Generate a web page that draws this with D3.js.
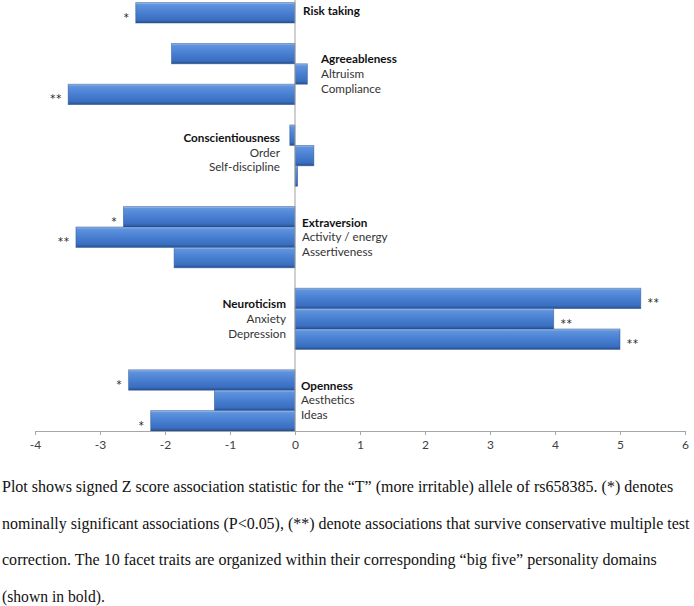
<!DOCTYPE html>
<html>
<head>
<meta charset="utf-8">
<script src="https://cdn.jsdelivr.net/npm/d3@7"></script>
<style>
  html, body { margin: 0; padding: 0; background: #fff; }
  svg { display: block; }
</style>
</head>
<body>
<svg id="chart" width="694" height="606"></svg>
<script>
// ---- data ----
const domains = ["Risk taking", "Agreeableness", "Conscientiousness", "Extraversion", "Neuroticism", "Openness"];
const facets = [[], ["Altruism", "Compliance"], ["Order", "Self-discipline"], ["Activity / energy", "Assertiveness"], ["Anxiety", "Depression"], ["Aesthetics", "Ideas"]];
// values per row, in top-to-bottom order (domain row first, then its facets)
const zScores = [-2.45, -1.90, 0.19, -3.49, -0.08, 0.29, 0.04, -2.64, -3.37, -1.86, 5.32, 3.98, 5.00, -2.56, -1.24, -2.22];
const significance = ["*", "", "", "**", "", "", "", "*", "**", "", "**", "**", "**", "*", "", "*"];
const xTicks = [-4, -3, -2, -1, 0, 1, 2, 3, 4, 5, 6];
const captionLines = [
  "Plot shows signed Z score association statistic for the \u201cT\u201d (more irritable) allele of rs658385. (*) denotes",
  "nominally significant associations (P<0.05), (**) denote associations that survive conservative multiple test",
  "correction. The 10 facet traits are organized within their corresponding \u201cbig five\u201d personality domains",
  "(shown in bold)."
];

// ---- build rows ----
const rows = [];
const slots = [];
let k = 0;
domains.forEach((d, gi) => {
  if (gi > 0) slots.push("gap" + gi);
  const names = [d].concat(facets[gi]);
  names.forEach((n, j) => {
    const id = "r" + k;
    rows.push({ id, name: n, group: gi, isDomain: j === 0, value: zScores[k], sig: significance[k] });
    slots.push(id);
    k++;
  });
});

const svg = d3.select("#chart");
const x = d3.scaleLinear().domain([-4, 6]).range([35, 685]);
const y = d3.scaleBand().domain(slots).range([2.6, 431]).padding(0);
const bw = y.bandwidth();

// gradient
const defs = svg.append("defs");
const grad = defs.append("linearGradient").attr("id", "barGrad").attr("x1", 0).attr("y1", 0).attr("x2", 0).attr("y2", 1);
[["0%", "#a3c2f0"], ["10%", "#5f93dd"], ["45%", "#4a81d2"], ["85%", "#3a6ec0"], ["100%", "#24508f"]].forEach(s =>
  grad.append("stop").attr("offset", s[0]).attr("stop-color", s[1]));

// bars
svg.append("g").selectAll("rect").data(rows).join("rect")
  .attr("x", d => Math.min(x(0), x(d.value)))
  .attr("y", d => y(d.id))
  .attr("width", d => Math.abs(x(d.value) - x(0)))
  .attr("height", bw)
  .attr("fill", "url(#barGrad)")
  .attr("stroke", "#2a5290")
  .attr("stroke-opacity", 0.6)
  .attr("stroke-width", 0.8);

// zero line
svg.append("line")
  .attr("x1", x(0)).attr("x2", x(0)).attr("y1", 0).attr("y2", 431)
  .attr("stroke", "#a0a0a0").attr("stroke-width", 1);

// x axis
const axis = svg.append("g").attr("transform", "translate(0,431)")
  .call(d3.axisBottom(x).tickValues(xTicks).tickSize(4).tickSizeOuter(0).tickFormat(d3.format("d")));
axis.select(".domain").attr("stroke", "#a6a6a6");
axis.selectAll(".tick line").attr("stroke", "#a6a6a6");
axis.selectAll(".tick text").attr("fill", "#404040").attr("font-family", "Lato, 'Open Sans', sans-serif")
  .attr("font-size", 12).attr("dy", "0.95em").text(d => d < 0 ? "-" + Math.abs(d) : d);

// significance markers
svg.append("g").selectAll("text").data(rows.filter(r => r.sig)).join("text")
  .attr("x", d => d.value < 0 ? x(d.value) - 6 : x(d.value) + 7)
  .attr("y", d => y(d.id) + bw / 2 + 8)
  .attr("text-anchor", d => d.value < 0 ? "end" : "start")
  .attr("font-family", "'DejaVu Sans', sans-serif").attr("font-size", 10).attr("fill", "#222")
  .attr("letter-spacing", 1)
  .text(d => d.sig);

// domain / facet labels
const labelOffsets = { 0: 8, 1: 26, 2: -15, 3: 7, 4: -9, 5: 6 };
const lineH = 14.7;
const shiftY = { 0: -2, 2: -3 };
domains.forEach((d, gi) => {
  const g = rows.filter(r => r.group === gi);
  const mid = g[Math.floor(g.length / 2)];
  const cy = y(mid.id) + bw / 2 + (shiftY[gi] || 0);
  const off = labelOffsets[gi];
  const anchor = off < 0 ? "end" : "start";
  const t = svg.append("text")
    .attr("font-family", "Lato, 'Open Sans', sans-serif").attr("font-size", 11.7)
    .attr("text-anchor", anchor);
  g.forEach((r, j) => {
    t.append("tspan")
      .attr("x", x(0) + off)
      .attr("y", cy + (j - (g.length - 1) / 2) * lineH + 4)
      .attr("font-weight", r.isDomain ? "bold" : "normal")
      .attr("fill", r.isDomain ? "#111" : "#333")
      .text(r.name);
  });
});

// caption: horizontally condensed serif text, scaled to the widths seen in the reference
const capWidths = [672, 688, 655, 103];
const capBase = [492, 528.5, 565, 601.5];
svg.append("g").selectAll("text").data(captionLines).join("text")
  .attr("x", 0)
  .attr("y", 0)
  .attr("font-family", "'Liberation Serif', 'Times New Roman', serif")
  .attr("font-size", 16.5)
  .attr("fill", "#111")
  .text(d => d)
  .each(function (d, i) {
    const natural = this.getComputedTextLength();
    const sx = capWidths[i] / natural;
    d3.select(this).attr("transform", `translate(2,${capBase[i]}) scale(${sx},1)`);
  });
</script>
</body>
</html>
